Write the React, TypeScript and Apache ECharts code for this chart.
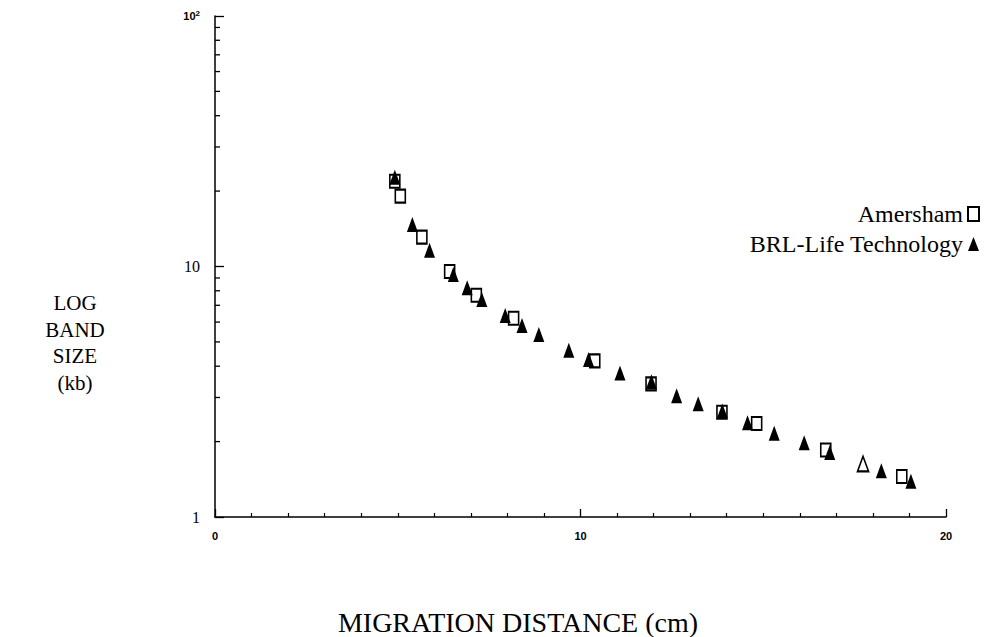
import React, { useEffect, useRef } from "react";
import * as echarts from "echarts";

// Amersham markers: [migration distance (cm), band size (kb)]
const amershamDistance = [4.92, 5.07, 5.66, 6.42, 7.15, 8.17, 10.39, 11.93, 13.87, 14.82, 16.71, 18.79];
const amershamSize = [21.9, 19.1, 13.1, 9.55, 7.68, 6.21, 4.2, 3.4, 2.62, 2.36, 1.85, 1.45];

// BRL-Life Technology markers
const brlDistance = [4.92, 5.4, 5.87, 6.52, 6.9, 7.3, 7.94, 8.4, 8.86, 9.68, 10.22, 11.08, 11.94, 12.63, 13.22, 13.88, 14.57, 15.3, 16.12, 16.82, 17.73, 18.23, 19.04];
const brlSize = [22.7, 14.7, 11.6, 9.29, 8.22, 7.38, 6.37, 5.82, 5.35, 4.63, 4.25, 3.76, 3.47, 3.05, 2.83, 2.65, 2.38, 2.16, 1.98, 1.81, 1.63, 1.53, 1.39];
// index of the one BRL marker printed hollow
const brlHollowIndex = 20;

const seriesNames = ["Amersham", "BRL-Life Technology"];
const xTickLabels = [0, 10, 20];
const yMinorTicks = [2, 3, 4, 5, 6, 7, 8, 9, 20, 30, 40, 50, 60, 70, 80, 90];
const xTitle = "MIGRATION DISTANCE (cm)";
const yTitleLines = ["LOG", "BAND", "SIZE", "(kb)"];

export default function App() {
  const ref = useRef<HTMLDivElement>(null);
  useEffect(() => {
    document.body.style.margin = "0";
    if (!ref.current) return;
    const chart = echarts.init(ref.current, null, { renderer: "svg" });
    const serif = "Liberation Serif";
    chart.setOption({
      animation: false,
      backgroundColor: "#fff",
      grid: { left: 215, right: 47, top: 16, bottom: 120, containLabel: false },
      legend: {
        data: seriesNames,
        orient: "vertical",
        right: 8,
        top: 197,
        align: "right",
        itemGap: 6,
        itemWidth: 11,
        itemHeight: 14,
        textStyle: { fontFamily: serif, fontSize: 24, color: "#000" },
      },
      xAxis: {
        type: "value",
        min: 0,
        max: 20,
        interval: 10,
        axisLine: { lineStyle: { color: "#000", width: 1.5 } },
        axisTick: { show: true, inside: true, length: 8, lineStyle: { color: "#000", width: 1.3 } },
        minorTick: { show: true, splitNumber: 10, length: 4, lineStyle: { color: "#000", width: 1.2 } },
        splitLine: { show: false },
        minorSplitLine: { show: false },
        axisLabel: {
          margin: 13,
          color: "#000",
          fontFamily: "Liberation Sans",
          fontWeight: "bold",
          fontSize: 11,
          formatter: (v: number) => (xTickLabels.includes(v) ? String(v) : ""),
        },
      },
      yAxis: {
        type: "log",
        logBase: 10,
        min: 1,
        max: 100,
        axisLine: { show: true, lineStyle: { color: "#000", width: 1.5 } },
        axisTick: { show: true, inside: true, length: 9, lineStyle: { color: "#000", width: 1.3 } },
        splitLine: { show: false },
        axisLabel: {
          margin: 15,
          color: "#000",
          fontFamily: serif,
          fontSize: 16,
          formatter: (v: number) => (v === 100 ? "{b|10}{s|2}" : String(v)),
          rich: {
            b: { fontFamily: "Liberation Sans", fontWeight: "bold", fontSize: 11, color: "#000" },
            s: { fontFamily: "Liberation Sans", fontWeight: "bold", fontSize: 8, color: "#000", verticalAlign: "top", padding: [0, 0, 5, 0] },
          },
        },
      },
      graphic: [
        ...yTitleLines.map((line, i) => ({
          type: "text",
          x: 75,
          y: 303 + i * 26.7,
          style: {
            text: line,
            fontFamily: serif,
            fontSize: 21,
            fill: "#000",
            align: "center",
            verticalAlign: "middle",
          },
        })),
        {
          type: "text",
          x: 518,
          y: 622,
          style: {
            text: xTitle,
            fontFamily: serif,
            fontSize: 28,
            fill: "#000",
            align: "center",
            verticalAlign: "middle",
          },
        },
      ],
      series: [
        {
          name: seriesNames[0],
          type: "scatter",
          symbol: "rect",
          symbolSize: [10, 13],
          itemStyle: { color: "#fff", borderColor: "#000", borderWidth: 1.8, opacity: 1 },
          data: amershamDistance.map((x, i) => [x, amershamSize[i]]),
          z: 2,
        },
        {
          name: seriesNames[1],
          type: "scatter",
          symbol: "triangle",
          symbolSize: [11, 15],
          itemStyle: { color: "#000", opacity: 1 },
          data: brlDistance.map((x, i) =>
            i === brlHollowIndex
              ? { value: [x, brlSize[i]], itemStyle: { color: "#fff", borderColor: "#000", borderWidth: 1.8 } }
              : [x, brlSize[i]]
          ),
          z: 3,
        },
        {
          name: "minorTicks",
          type: "custom",
          silent: true,
          data: yMinorTicks.map((v) => [0, v]),
          renderItem: (params: any, api: any) => {
            const p = api.coord([api.value(0), api.value(1)]);
            return {
              type: "line",
              shape: { x1: p[0], y1: p[1], x2: p[0] + 5, y2: p[1] },
              style: { stroke: "#000", lineWidth: 1.3 },
            };
          },
          z: 1,
        },
      ],
    });
    return () => chart.dispose();
  }, []);
  return <div ref={ref} style={{ width: 993, height: 637 }} />;
}
